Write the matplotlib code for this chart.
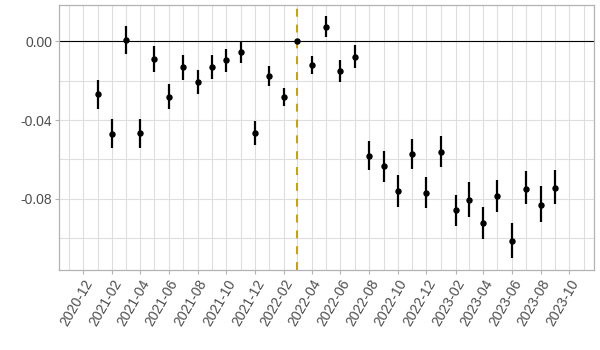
import matplotlib
matplotlib.use("Agg")
import matplotlib.pyplot as plt
import matplotlib.dates as mdates
import pandas as pd

plt.rcParams['font.family'] = ['Liberation Sans', 'DejaVu Sans']
plt.rcParams['axes.unicode_minus'] = False

# monthly estimates relative to 2022-03 (reference month = 0)
months = pd.date_range("2021-01-01", "2023-09-01", freq="MS")
estimate = [-0.0268, -0.0472, 0.0007, -0.0465, -0.0090, -0.0284, -0.0129, -0.0206,
            -0.0129, -0.0095, -0.0053, -0.0465, -0.0175, -0.0284, 0.0, -0.0119,
            0.0074, -0.0150, -0.0078, -0.0582, -0.0633, -0.0760, -0.0572, -0.0771,
            -0.0562, -0.0857, -0.0806, -0.0923, -0.0786, -0.1015, -0.0750, -0.0832,
            -0.0745]
upper = [-0.0197, -0.0395, 0.0078, -0.0395, -0.0024, -0.0217, -0.0070, -0.0146,
         -0.0070, -0.0039, -0.0002, -0.0404, -0.0126, -0.0238, 0.0, -0.0075,
         0.0129, -0.0095, -0.0019, -0.0507, -0.0558, -0.0681, -0.0497, -0.0691,
         -0.0482, -0.0782, -0.0716, -0.0843, -0.0706, -0.0925, -0.0660, -0.0736,
         -0.0655]
lower = [-0.0343, -0.0542, -0.0065, -0.0542, -0.0156, -0.0345, -0.0197, -0.0268,
         -0.0192, -0.0155, -0.0109, -0.0528, -0.0228, -0.0329, 0.0, -0.0166,
         0.0020, -0.0206, -0.0136, -0.0655, -0.0716, -0.0843, -0.0650, -0.0849,
         -0.0640, -0.0940, -0.0894, -0.1006, -0.0868, -0.1103, -0.0828, -0.0919,
         -0.0828]
event_date = pd.Timestamp("2022-03-01")
y_breaks = [0.0, -0.04, -0.08]
y_minor = [-0.02, -0.06, -0.10]

fig = plt.figure(figsize=(6, 3.5), dpi=100)
ax = fig.add_axes([0.0988, 0.2286, 0.8917, 0.7571])

# grid
ax.set_axisbelow(True)
ax.grid(True, which='major', color='#DEDEDE', linewidth=0.8)
ax.grid(True, which='minor', color='#DEDEDE', linewidth=0.8)

ax.axhline(0, color='black', linewidth=0.8, zorder=2)
ax.axvline(event_date, color='#C2A31E', linewidth=1.5, linestyle=(0, (3.8, 3.8)), zorder=2)

# error bars and points
ax.vlines(months, lower, upper, color='black', linewidth=1.6, zorder=3)
ax.plot(months, estimate, 'o', color='black', markersize=3.6, zorder=4)

# axes
ax.set_xlim(pd.Timestamp("2020-10-11"), pd.Timestamp("2023-11-23"))
ax.set_ylim(-0.1162, 0.0185)
ax.xaxis.set_major_locator(mdates.MonthLocator(bymonth=[2, 4, 6, 8, 10, 12]))
ax.xaxis.set_minor_locator(mdates.MonthLocator())
ax.xaxis.set_major_formatter(mdates.DateFormatter("%Y-%m"))
ax.set_yticks(y_breaks)
ax.set_yticklabels(["%.2f" % v for v in y_breaks])
ax.set_yticks(y_minor, minor=True)

for s in ax.spines.values():
    s.set_color('#B3B3B3')
    s.set_linewidth(0.9)

ax.tick_params(which='major', length=3, color='#B3B3B3', labelcolor='#4D4D4D',
               labelsize=10, pad=2)
ax.tick_params(which='minor', length=0)
for lab in ax.get_xticklabels():
    lab.set_rotation(60)
    lab.set_ha('right')
    lab.set_rotation_mode('anchor')

fig.savefig("out.png", dpi=100)
